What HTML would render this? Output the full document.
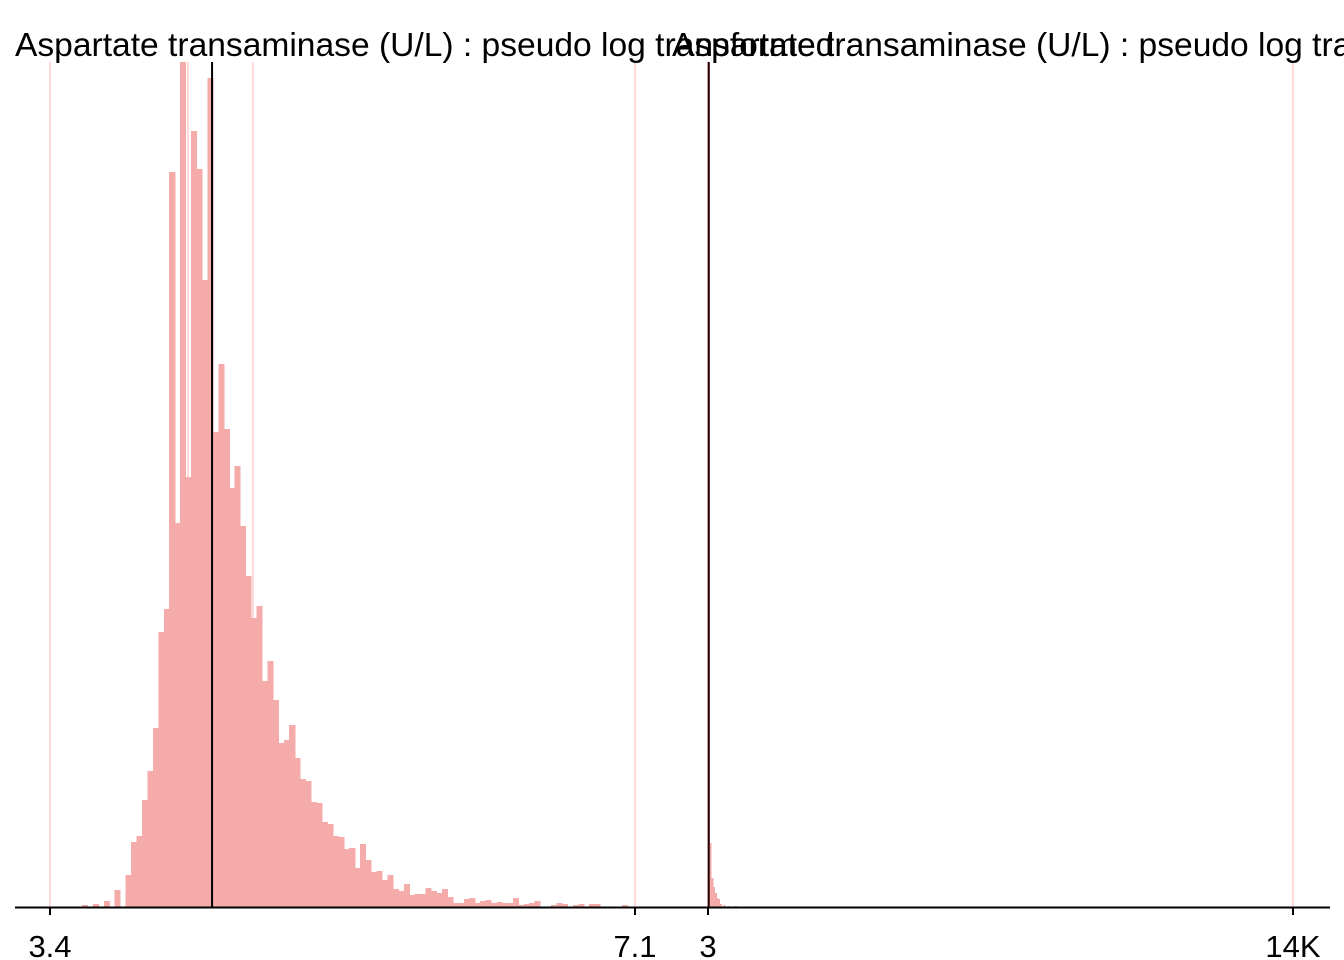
<!DOCTYPE html>
<html><head><meta charset="utf-8"><style>
html,body{margin:0;padding:0;background:#fff;}
svg{display:block;font-family:"Liberation Sans",Arial,sans-serif;}
</style></head><body>
<svg id="chart" width="1344" height="960">
<defs><clipPath id="clipL"><rect x="15" y="62" width="1329" height="846"/></clipPath></defs>
<g id="grid"></g>
<g id="bars" clip-path="url(#clipL)" shape-rendering="crispEdges"></g>
<g id="medians"></g>
<g id="axis"></g>
<text x="15" y="56" font-size="33.6" fill="#000">Aspartate transaminase (U/L) : pseudo log transformed</text>
<text x="672" y="56" font-size="33.6" fill="#000">Aspartate transaminase (U/L) : pseudo log transformed</text>
</svg>
<script>
const leftCounts=[2,0,3,0,6,0,17,0,32,65,71,107,136,179,275,298,735,384,900,430,776,738,627,829,475,543,478,419,441,381,331,289,301,226,246,207,164,167,182,149,128,126,105,104,85,83,71,70,58,59,39,63,47,35,36,27,32,18,16,23,12,13,13,19,16,14,18,10,4,4,8,9,4,6,7,4,5,4,4,9,2,3,4,6,0,0,2,4,3,0,2,3,0,3,3,0,0,0,0,2];
const leftBinStart=3.602, leftBinWidth=0.0345;
const leftTicks=[3.4,7.1];
const leftTickLabels=["3.4","7.1"];
const leftRefLines=[3.4,4.273,4.684,7.1];
const leftMedian=4.425;
const rightCounts=[2000,64,29,20,14,9,8,3,0,2,0,0,1,0,0,0,1];
const rightBinStart=3, rightBinWidth=40.7;
const rightTicks=[3,14000];
const rightTickLabels=["3","14K"];
const rightRefLines=[3,14000];
const rightMedian=20;

const NS="http://www.w3.org/2000/svg";
const baseY=907, topY=62, yMax=845;
const xL=v=>50+(v-3.4)/(7.1-3.4)*585;
const xR=v=>708+(v-3)/(14000-3)*585;
const yS=c=>baseY-c/yMax*(baseY-topY);
function mk(tag,attrs,parent){const e=document.createElementNS(NS,tag);for(const k in attrs)e.setAttribute(k,attrs[k]);document.getElementById(parent).appendChild(e);return e;}

leftRefLines.forEach(v=>{const l=mk('line',{x1:xL(v),x2:xL(v),y1:topY,y2:baseY,stroke:'#ffcccc','stroke-width':1.5},'grid');

});
rightRefLines.forEach(v=>{const l=mk('line',{x1:xR(v),x2:xR(v),y1:topY,y2:baseY,stroke:'#ffcccc','stroke-width':1.5},'grid');

});

leftCounts.forEach((c,i)=>{if(!c)return;const x0=xL(leftBinStart+i*leftBinWidth),x1=xL(leftBinStart+(i+1)*leftBinWidth);
const r=mk('rect',{x:x0,y:yS(c),width:x1-x0+0.6,height:baseY-yS(c),fill:'#f6abab'},'bars');

});
rightCounts.forEach((c,i)=>{if(!c)return;const x0=xR(rightBinStart+i*rightBinWidth),x1=xR(rightBinStart+(i+1)*rightBinWidth);
const yy=Math.max(topY,yS(c));
const r=mk('rect',{x:x0,y:yy,width:x1-x0+0.3,height:baseY-yy,fill:'#f6abab'},'bars');

});

let m=mk('line',{x1:xL(leftMedian),x2:xL(leftMedian),y1:topY,y2:baseY,stroke:'#000','stroke-width':2},'medians');


m=mk('line',{x1:xR(rightMedian),x2:xR(rightMedian),y1:topY,y2:baseY,stroke:'#200000','stroke-width':2},'medians');



const ax=mk('line',{x1:15,x2:1330,y1:907.5,y2:907.5,stroke:'#000','stroke-width':2},'axis');


function tick(x,label,name){const t=mk('line',{x1:x,x2:x,y1:907,y2:915,stroke:'#000','stroke-width':2},'axis');


const tx=mk('text',{x:x,y:957,'text-anchor':'middle','font-size':31,fill:'#000'},'axis');tx.textContent=label;

}
leftTicks.forEach((v,i)=>tick(xL(v),leftTickLabels[i],'left-x'));
rightTicks.forEach((v,i)=>tick(xR(v),rightTickLabels[i],'right-x'));
</script>
</body></html>
